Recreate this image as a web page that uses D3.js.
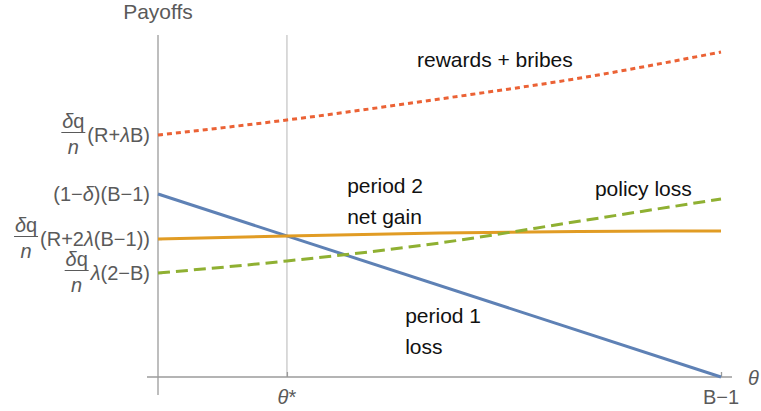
<!DOCTYPE html>
<html lang="en">
  <head>
    <meta charset="UTF-8" />
    <title>Payoffs</title>
    <style>
      body {
        margin: 0;
        background: #fff;
      }
      text {
        font-family: "Liberation Sans", Arial, sans-serif;
        font-size: 20px;
      }
      .tick-label {
        fill: #5a5a5a;
      }
      .curve-label {
        fill: #111;
        font-size: 21px;
      }
      .axis line,
      .axis-line {
        stroke: #9b9b9b;
        stroke-width: 1.3px;
      }
      .curve {
        fill: none;
        stroke-width: 3px;
      }
    </style>
  </head>

  <body>
    <script src="https://d3js.org/d3.v7.min.js"></script>
    <script>
      /* global d3 */

      // theta runs from 0 to B-1 (scaled to 1), payoffs in arbitrary units
      const thetaStar = 0.229;
      const thetaPoints = [0, 0.229, 0.5, 0.75, 1];
      const rewardsBribes = [2.42, 2.57, 2.78, 2.99, 3.25];
      const policyLoss = [1.04, 1.16, 1.34, 1.56, 1.78];
      const netGain = [1.38, 1.41, 1.44, 1.455, 1.46];
      const lossEnds = [0, 1];
      const periodOneLoss = [1.83, 0];

      const yTickValues = [2.42, 1.83, 1.38, 1.04];
      const yTickFraction = [true, false, true, true];
      const yTickText = ["(R+λB)", "(1−δ)(B−1)", "(R+2λ(B−1))", "λ(2−B)"];
      const xTickValues = [thetaStar, 1];
      const xTickText = ["θ*", "B−1"];

      const labelText = [["rewards + bribes"], ["period 2", "net gain"], ["policy loss"], ["period 1", "loss"]];
      const labelTheta = [0.46, 0.336, 0.776, 0.439];
      const labelValue = [3.1, 1.84, 1.81, 0.54];

      const width = 761,
        height = 411;

      const x = d3.scaleLinear().domain([0, 1]).range([158, 721]);
      const y = d3.scaleLinear().domain([0, 3.42]).range([377, 35]);

      const svg = d3
        .select("body")
        .append("svg")
        .attr("width", width)
        .attr("height", height);

      // italic glyphs the way Mathematica sets them
      const italics = "δλnθ";
      function richText(sel, str) {
        Array.from(str).forEach(ch => {
          sel
            .append("tspan")
            .style("font-style", italics.includes(ch) ? "italic" : "normal")
            .text(ch);
        });
      }

      // gridline at theta*
      svg
        .append("line")
        .attr("x1", x(thetaStar))
        .attr("x2", x(thetaStar))
        .attr("y1", y(3.42))
        .attr("y2", y(0))
        .attr("stroke", "#cfcfcf")
        .attr("stroke-width", 1.5);

      // axes
      svg
        .append("line")
        .attr("class", "axis-line")
        .attr("x1", x(0))
        .attr("x2", x(0))
        .attr("y1", y(3.42))
        .attr("y2", y(0) + 18);
      svg
        .append("line")
        .attr("class", "axis-line")
        .attr("x1", x(0) - 11)
        .attr("x2", x(1) + 11)
        .attr("y1", y(0))
        .attr("y2", y(0));

      const yAxis = svg
        .append("g")
        .attr("class", "axis")
        .attr("transform", `translate(${x(0)},0)`)
        .call(d3.axisLeft(y).tickValues(yTickValues).tickSize(-4).tickFormat(""));
      yAxis.select(".domain").remove();

      const xAxis = svg
        .append("g")
        .attr("class", "axis")
        .attr("transform", `translate(0,${y(0)})`)
        .call(d3.axisBottom(x).tickValues(xTickValues).tickSize(-5).tickFormat(""));
      xAxis.select(".domain").remove();

      // y tick labels, some with a δq/n prefix
      yTickValues.forEach((v, i) => {
        const g = svg.append("g").attr("transform", `translate(0,${y(v)})`);
        const rest = g
          .append("text")
          .attr("class", "tick-label")
          .attr("x", 150)
          .attr("y", 6.5)
          .attr("text-anchor", "end");
        richText(rest, yTickText[i]);
        if (!yTickFraction[i]) return;
        const w = rest.node().getComputedTextLength();
        const xc = 150 - w - 2 - 12;
        const num = g
          .append("text")
          .attr("class", "tick-label")
          .attr("x", xc)
          .attr("y", -7)
          .attr("text-anchor", "middle");
        richText(num, "δq");
        g.append("line")
          .attr("x1", xc - 12)
          .attr("x2", xc + 12)
          .attr("y1", -2.5)
          .attr("y2", -2.5)
          .attr("stroke", "#5a5a5a")
          .attr("stroke-width", 1);
        const den = g
          .append("text")
          .attr("class", "tick-label")
          .attr("x", xc)
          .attr("y", 19)
          .attr("text-anchor", "middle");
        richText(den, "n");
      });

      // x tick labels
      xTickValues.forEach((v, i) => {
        const t = svg
          .append("text")
          .attr("class", "tick-label")
          .attr("x", x(v))
          .attr("y", y(0) + 27)
          .attr("text-anchor", "middle");
        richText(t, xTickText[i]);
      });

      svg
        .append("text")
        .attr("class", "tick-label")
        .attr("x", x(0))
        .attr("y", 19)
        .attr("text-anchor", "middle")
        .style("font-size", "21px")
        .text("Payoffs");
      richText(
        svg
          .append("text")
          .attr("class", "tick-label")
          .attr("x", 748)
          .attr("y", y(0) + 8),
        "θ"
      );

      // curves
      const line = d3
        .line()
        .x(d => x(d[0]))
        .y(d => y(d[1]))
        .curve(d3.curveMonotoneX);

      const series = [
        { pts: d3.zip(lossEnds, periodOneLoss), color: "#5e81b5", dash: null },
        { pts: d3.zip(thetaPoints, netGain), color: "#e19c24", dash: null },
        { pts: d3.zip(thetaPoints, policyLoss), color: "#8fb032", dash: "12,6" },
        { pts: d3.zip(thetaPoints, rewardsBribes), color: "#eb6235", dash: "5,4" }
      ];

      svg
        .selectAll(".curve")
        .data(series)
        .join("path")
        .attr("class", "curve")
        .attr("d", d => line(d.pts))
        .attr("stroke", d => d.color)
        .attr("stroke-dasharray", d => d.dash);

      // curve labels
      labelText.forEach((lines, i) => {
        lines.forEach((s, j) => {
          svg
            .append("text")
            .attr("class", "curve-label")
            .attr("x", x(labelTheta[i]))
            .attr("y", y(labelValue[i]) + j * 30.5)
            .text(s);
        });
      });
    </script>
  </body>
</html>
